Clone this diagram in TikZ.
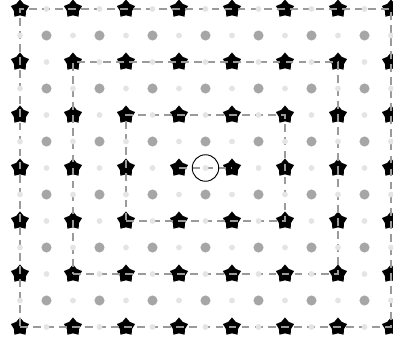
\documentclass[tikz,border=0pt]{standalone}
\usepackage{tikz}
\usetikzlibrary{shapes.geometric}
\definecolor{dotgray}{HTML}{A6A6A6}
\definecolor{palegray}{HTML}{E4E4E4}
\definecolor{linegray}{HTML}{9A9A9A}
\tikzset{
  site/.style={star, star points=5, star point ratio=1.5, fill=black, draw=none, minimum size=0.36cm, inner sep=0pt},
  bigdot/.style={circle, fill=dotgray, minimum size=0.19cm, inner sep=0pt},
  smalldot/.style={circle, fill=palegray, minimum size=0.11cm, inner sep=0pt},
  ring/.style={dash pattern=on 4.2pt off 2.8pt, draw=linegray, line width=.6pt},
  probe/.style={circle, draw=black, line width=.5pt, minimum size=0.5cm, inner sep=0pt},
}

\begin{document}
\begin{tikzpicture}
        \useasboundingbox (-0.377,-0.189) rectangle (7.038,6.170);
        % lattice sites
        \foreach \i in {0,...,7}{
          \foreach \j in {0,...,6}{
            \node[site] (s-\i-\j) at (\i,\j) {};
          }
        }
        % nested rectangles through the sites
        \draw[ring] (s-3-3.center) -- (s-4-3.center);
        \draw[ring] (s-2-2.center) -- (s-5-2.center) -- (s-5-4.center) -- (s-2-4.center) -- cycle;
        \draw[ring] (s-1-1.center) -- (s-6-1.center) -- (s-6-5.center) -- (s-1-5.center) -- cycle;
        \draw[ring] (s-0-0.center) -- (s-7-0.center) -- (s-7-6.center) -- (s-0-6.center) -- cycle;
        % cell centres
        \foreach \i in {0,...,6}{
          \foreach \j in {0,...,5}{
            \node[bigdot] (c-\i-\j) at (\i+0.5,\j+0.5) {};
          }
        }
        % bond midpoints
        \foreach \i in {0,...,6}{
          \foreach \j in {0,...,6}{
            \node[smalldot] (h-\i-\j) at (\i+0.5,\j) {};
          }
        }
        \foreach \i in {0,...,7}{
          \foreach \j in {0,...,5}{
            \node[smalldot] (v-\i-\j) at (\i,\j+0.5) {};
          }
        }
        \node[probe] (origin) at (h-3-3) {};
      \end{tikzpicture}
\end{document}
